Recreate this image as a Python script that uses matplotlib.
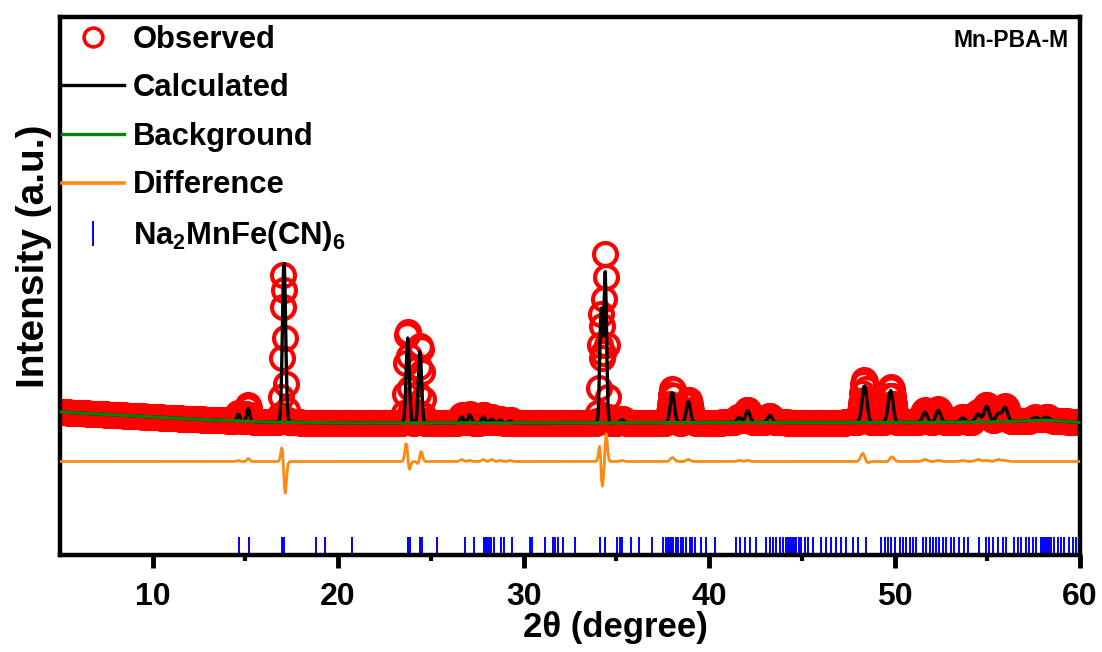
import numpy as np
import matplotlib.pyplot as plt
from matplotlib.lines import Line2D

plt.rcParams['font.family'] = ['Liberation Sans', 'DejaVu Sans']
plt.rcParams['font.weight'] = 'bold'
plt.rcParams['mathtext.fontset'] = 'custom'
plt.rcParams['mathtext.rm'] = 'Liberation Sans:bold'
plt.rcParams['mathtext.bf'] = 'Liberation Sans:bold'
plt.rcParams['mathtext.default'] = 'rm'

# reflections of the refined pattern: position, calc/obs height above background, fwhm
peak_pos = [14.62, 15.15, 17.08, 23.75, 24.41, 26.66, 27.10, 27.83, 28.28, 28.73,
            29.27, 34.18, 34.40, 35.30, 38.02, 38.88, 41.62, 42.08, 43.28, 48.38,
            49.79, 51.64, 52.36, 53.67, 54.50, 54.97, 55.60, 55.96, 57.60, 58.20]
obs_pos = [14.62, 15.15, 17.06, 23.73, 24.42, 26.66, 27.10, 27.83, 28.28, 28.73,
           29.27, 34.16, 34.41, 35.30, 38.02, 38.88, 41.62, 42.08, 43.28, 48.36,
           49.80, 51.64, 52.36, 53.67, 54.50, 54.97, 55.60, 55.96, 57.60, 58.20]
calc_height = [7, 13, 163, 85, 72, 6, 8, 6, 4, 3,
               2, 116, 150, 3, 30, 21, 5, 12, 7, 37,
               32, 10, 12, 4, 8, 16, 8, 14, 3, 3]
obs_height = [8, 16, 148, 94, 79, 8, 9, 8, 6, 4,
              3, 110, 170, 4, 34, 23, 6, 13, 7, 43,
              36, 12, 13, 5, 10, 17, 10, 15, 3, 3]
fwhm = [0.18, 0.18, 0.20, 0.20, 0.20, 0.22, 0.22, 0.22, 0.22, 0.22,
        0.22, 0.17, 0.17, 0.24, 0.26, 0.26, 0.28, 0.28, 0.28, 0.30,
        0.30, 0.30, 0.30, 0.32, 0.32, 0.32, 0.32, 0.32, 0.34, 0.34]

# background read at a few angles
bg_2theta = [5, 8, 12, 16, 20, 30, 40, 50, 55, 57, 58, 59, 60]
bg_int = [143, 140, 136, 133, 132, 132, 132.5, 132.5, 133, 134, 135, 134, 132.5]

# Bragg reflection markers for Na2MnFe(CN)6
hkl_pos = [14.65, 15.19, 16.97, 17.06, 18.83, 19.28, 20.76, 23.78, 23.87, 24.41,
           24.54, 25.32, 26.85, 27.33, 27.87, 27.98, 28.05, 28.13, 28.23, 28.38,
           28.77, 28.95, 29.37, 30.36, 30.45, 31.17, 31.59, 31.71, 31.84, 32.13,
           32.79, 34.14, 34.41, 35.05, 35.17, 35.32, 35.77, 36.22, 36.90, 37.52,
           37.66, 37.79, 37.88, 37.97, 38.05, 38.20, 38.33, 38.46, 38.60, 38.78,
           38.96, 39.10, 39.23, 39.59, 39.86, 40.31, 41.47, 41.65, 41.92, 42.19,
           42.55, 43.09, 43.27, 43.45, 43.63, 43.81, 43.99, 44.17, 44.25, 44.34,
           44.43, 44.52, 44.61, 44.70, 44.85, 44.97, 45.15, 45.33, 45.60, 46.05,
           46.32, 46.59, 46.86, 47.13, 47.40, 47.76, 48.03, 48.47, 49.28, 49.46,
           49.64, 49.82, 50.00, 50.27, 50.45, 50.63, 50.81, 50.99, 51.13, 51.53,
           51.71, 51.89, 52.07, 52.24, 52.42, 52.60, 52.78, 53.05, 53.23, 53.50,
           53.77, 53.95, 54.58, 54.94, 55.12, 55.30, 55.57, 55.83, 56.01, 56.46,
           56.64, 56.82, 57.09, 57.27, 57.45, 57.63, 57.90, 57.99, 58.08, 58.17,
           58.26, 58.35, 58.44, 58.62, 58.80, 58.98, 59.16, 59.43, 59.61, 59.78]

diff_offset = 93.5

two_theta = np.arange(5, 60.001, 0.05)
background = np.interp(two_theta, bg_2theta, bg_int)


def profile(x, pos, height, width):
    y = np.zeros_like(x)
    for p, h, w in zip(pos, height, width):
        y += h * np.exp(-4 * np.log(2) * ((x - p) / w) ** 2)
    return y


calc = background + profile(two_theta, peak_pos, calc_height, fwhm)
obs = background + profile(two_theta, obs_pos, obs_height, fwhm)
diff = obs - calc + diff_offset

fig = plt.figure(figsize=(11.02, 6.52), dpi=100)
ax = fig.add_axes([60 / 1102, 1 - 555 / 652, 1020 / 1102, 538 / 652])

ax.plot(two_theta, obs, 'o', mfc='none', mec='#ff0000', ms=16.5, mew=3.0, zorder=1)
ax.plot(two_theta, calc, color='black', lw=2.4, zorder=2)
ax.plot(two_theta, background, color='#0a800a', lw=2.4, zorder=3)
ax.plot(two_theta, diff, color='#fa8a12', lw=2.0, zorder=3)
ax.vlines(hkl_pos, 2, 18, color='#0000ff', lw=1.4)

ax.set_xlim(5, 60)
ax.set_ylim(0, 538)
ax.set_xticks([10, 20, 30, 40, 50, 60])
ax.set_xticks([15, 25, 35, 45, 55], minor=True)
ax.set_yticks([])
ax.tick_params(axis='x', which='major', direction='out', length=9.5, width=3.5,
               labelsize=23, pad=10)
ax.tick_params(axis='x', which='minor', direction='out', length=4.5, width=3)
for s in ax.spines.values():
    s.set_linewidth(3.2)

ax.set_xlabel('2θ (degree)', fontsize=25, fontweight='bold')
ax.xaxis.set_label_coords(0.545, -0.105)
ax.set_ylabel('Intensity (a.u.)', fontsize=28, fontweight='bold')
ax.yaxis.set_label_coords(-0.008, 0.555)

ax.text(0.989, 0.944, 'Mn-PBA-M', ha='right', va='baseline', fontsize=16.5,
        fontweight='bold', transform=ax.transAxes)

handles = [
    Line2D([], [], ls='none', marker='o', mfc='none', mec='#ff0000', ms=13.5, mew=2.6),
    Line2D([], [], color='black', lw=2.4),
    Line2D([], [], color='#0a800a', lw=2.4),
    Line2D([], [], color='#fa8a12', lw=2.6),
    Line2D([], [], ls='none', marker='|', color='#0000ff', ms=18, mew=1.4),
]
labels = ['Observed', 'Calculated', 'Background', 'Difference', r'Na$_2$MnFe(CN)$_6$']
ax.legend(handles, labels, loc='upper left', bbox_to_anchor=(-0.006, 1), borderaxespad=0,
          borderpad=0.25, frameon=False, prop={'size': 22.3, 'weight': 'bold'},
          handlelength=2.03, handletextpad=0.26, labelspacing=0.6)

fig.savefig('out.png', dpi=100)
